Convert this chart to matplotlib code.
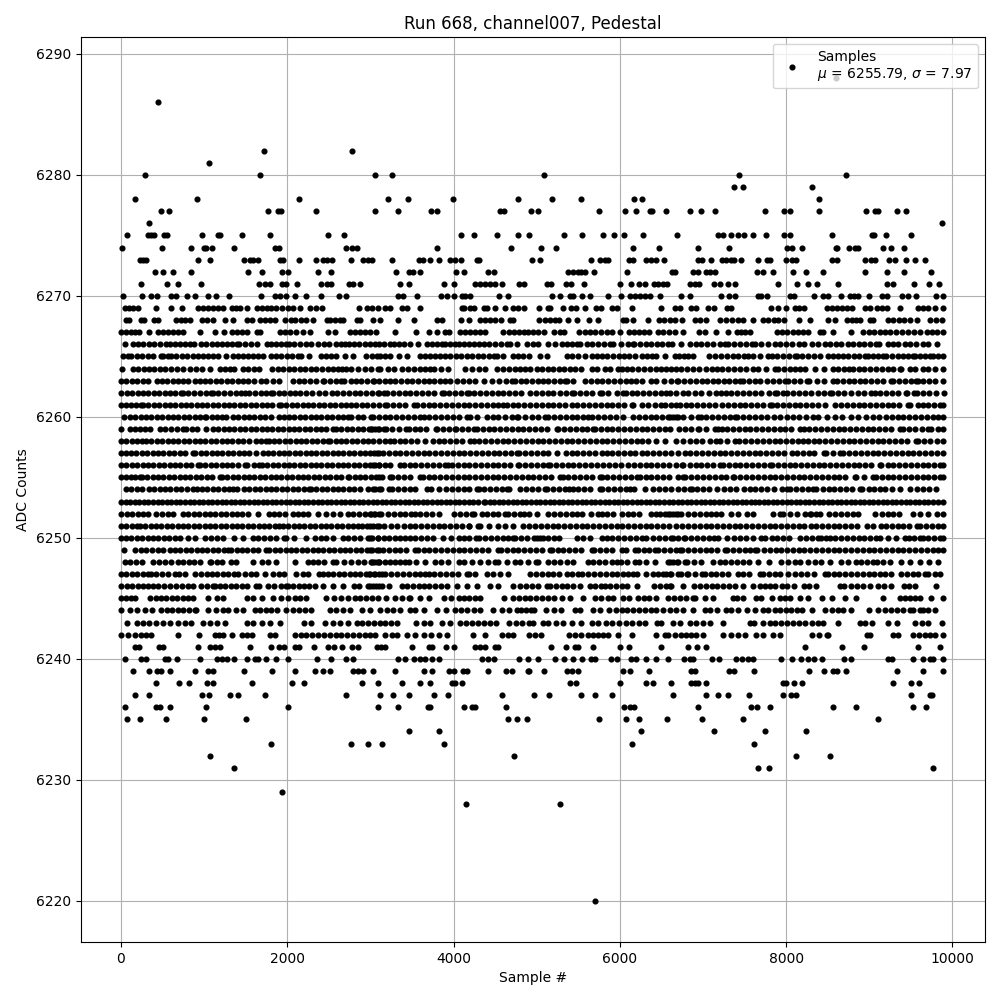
import matplotlib
matplotlib.use("Agg")
import matplotlib.pyplot as plt

# Sample numbers, one list per ADC level
s6288 = [8594]
s6286 = [446]
s6282 = [1723, 2783]
s6281 = [1060]
s6280 = [289, 1675, 3060, 3265, 5084, 7434, 8723]
s6279 = [7369, 7482, 8313]
s6278 = [169, 916, 2145, 3217, 3446, 3988, 4771, 5181, 5530, 6169, 6265, 8398]
s6277 = [482, 578, 1771, 1892, 1928, 2349, 3060, 3337, 3731, 3795, 4562, 4610, 4932, 5012, 5747, 6064, 6193, 6357, 6385, 6554, 6843, 6976, 7145, 7747, 7972, 8044, 8398, 8964, 9068, 9108, 9329, 9438]
s6276 = [337, 9879]
s6275 = [72, 325, 361, 393, 514, 554, 976, 1169, 1189, 1458, 1795, 2494, 2687, 4084, 4241, 4518, 4771, 4912, 5325, 5542, 5795, 5928, 6048, 6277, 6687, 7181, 7241, 7337, 7422, 7490, 7602, 7759, 7972, 8044, 8554, 9028, 9060, 9205, 9506]
s6274 = [12, 498, 843, 996, 1028, 1096, 1361, 1851, 1900, 2711, 2783, 2843, 3795, 4687, 5048, 5229, 6157, 6470, 6940, 7313, 8012, 8064, 8193, 8594, 8614, 8759, 8827, 8863, 9169, 9265, 9422]
s6273 = [229, 265, 301, 928, 1072, 1482, 1554, 1590, 1651, 1912, 1952, 2145, 2341, 2434, 2474, 2542, 2771, 2908, 2976, 3016, 3265, 3578, 3638, 3711, 3819, 3952, 4020, 4084, 4281, 4309, 4944, 5040, 5651, 5755, 5815, 5859, 6108, 6157, 6317, 6378, 6438, 6530, 6940, 6992, 7100, 7229, 7281, 7341, 7378, 7458, 7663, 7771, 7811, 8000, 8068, 8116, 8554, 8614, 8948, 9016, 9072, 9241, 9313, 9446, 9554, 9675]
s6272 = [410, 506, 627, 843, 1530, 1691, 1940, 2012, 2365, 2530, 3313, 3458, 3506, 3602, 4024, 4120, 4410, 4482, 5373, 5434, 5494, 5534, 5586, 5687, 6084, 6626, 6663, 6880, 6940, 7040, 7088, 7141, 7651, 7723, 7843, 8084, 8241, 8446, 8952, 9217, 9422, 9747]
s6271 = [241, 554, 687, 964, 1663, 1735, 1791, 1940, 1984, 2120, 2410, 2478, 2522, 2747, 2795, 2879, 3361, 3458, 3879, 4000, 4253, 4321, 4381, 4434, 4502, 4582, 4791, 4843, 5120, 5177, 5353, 5414, 5566, 6000, 6133, 6229, 6297, 6410, 6458, 6518, 6570, 6839, 6900, 6952, 7128, 7201, 7301, 7385, 7896, 8133, 8265, 8366, 8627, 9217, 9289, 9542, 9723, 9843]
s6270 = [24, 253, 361, 434, 606, 667, 795, 892, 1048, 1145, 1301, 1687, 1851, 1912, 1988, 2096, 2225, 2402, 2626, 2703, 3337, 3390, 3554, 3843, 3920, 4000, 4100, 4141, 4193, 4550, 4655, 5181, 5281, 5394, 5434, 5542, 5639, 5855, 6016, 6116, 6177, 6245, 6297, 6357, 6482, 6739, 6839, 7221, 7313, 7381, 7663, 7703, 7771, 8044, 8092, 8337, 8446, 8506, 8663, 8767, 8815, 8867, 8992, 9149, 9209, 9390, 9470, 9566, 9807, 9883]
s6269 = [45, 100, 150, 205, 420, 605, 735, 930, 990, 1050, 1110, 1170, 1230, 1330, 1385, 1430, 1510, 1630, 1690, 1750, 1810, 1870, 1940, 2010, 2065, 2155, 2275, 2340, 2415, 2865, 2955, 3020, 3095, 3175, 3235, 3375, 3435, 3600, 4100, 4120, 4200, 4240, 4360, 4400, 4500, 4615, 4715, 4780, 4845, 5024, 5133, 5161, 5313, 5414, 5474, 5578, 5715, 5775, 5904, 5964, 6145, 6494, 6667, 6727, 6859, 6920, 7060, 7133, 7293, 7333, 7823, 7900, 8000, 8104, 8157, 8217, 8486, 8546, 8606, 8667, 8727, 8795, 8948, 9008, 9088, 9149, 9209, 9373, 9590, 9651, 9711, 9791, 9883]
s6268 = [65, 95, 245, 275, 395, 445, 665, 725, 775, 825, 980, 1030, 1110, 1250, 1350, 1520, 1580, 1675, 1735, 1795, 1850, 1970, 2040, 2090, 2160, 2230, 2315, 2475, 2515, 2575, 2635, 2675, 2835, 2875, 3030, 3110, 3330, 3520, 3800, 3860, 4090, 4180, 4320, 4380, 4440, 4500, 4570, 4680, 4720, 5032, 5095, 5155, 5215, 5273, 5373, 5482, 5627, 5735, 6036, 6076, 6157, 6337, 6470, 6530, 6600, 6658, 6751, 6900, 6965, 7040, 7205, 7281, 7345, 7415, 7482, 7606, 7723, 7785, 7850, 7904, 7976, 8157, 8289, 8506, 8586, 8727, 8790, 8840, 8887, 9008, 9048, 9229, 9290, 9355, 9420, 9495, 9570, 9731, 9800, 9871]
s6267 = [5, 65, 125, 170, 215, 335, 440, 505, 565, 625, 690, 745, 955, 1130, 1240, 1330, 1390, 1450, 1510, 1630, 1670, 1910, 1970, 2030, 2110, 2185, 2275, 2495, 2575, 2760, 2820, 2880, 2940, 2995, 3070, 3290, 3545, 3700, 3805, 3900, 3950, 4080, 4140, 4200, 4260, 4320, 4380, 4600, 4665, 4730, 4790, 4850, 4900, 4950, 5020, 5092, 5212, 5275, 5333, 5514, 5575, 5635, 5695, 5775, 5840, 5905, 5996, 6104, 6170, 6230, 6290, 6349, 6458, 6520, 6590, 6658, 6759, 6952, 7020, 7153, 7301, 7410, 7460, 7510, 7562, 7884, 7950, 8015, 8080, 8140, 8200, 8265, 8406, 8446, 8566, 8775, 8928, 8990, 9060, 9129, 9189, 9250, 9320, 9390, 9460, 9535, 9610, 9691, 9750, 9815, 9880]
s6266 = [52, 145, 205, 265, 337, 400, 470, 540, 590, 650, 710, 770, 830, 880, 960, 1020, 1090, 1150, 1210, 1270, 1330, 1390, 1420, 1490, 1560, 1640, 1750, 1810, 1870, 1920, 1990, 2020, 2080, 2150, 2220, 2290, 2370, 2440, 2500, 2580, 2650, 2700, 2740, 2800, 2860, 2930, 3000, 3060, 3100, 3160, 3230, 3285, 3340, 3400, 3480, 3570, 3680, 3740, 3800, 3860, 3900, 3960, 4020, 4060, 4120, 4180, 4240, 4300, 4360, 4430, 4500, 4570, 4640, 4680, 4760, 4880, 4960, 5020, 5130, 5225, 5300, 5360, 5430, 5480, 5525, 5600, 5670, 5740, 5810, 5880, 5915, 6015, 6095, 6155, 6175, 6240, 6310, 6380, 6445, 6510, 6575, 6630, 6733, 6840, 6910, 6980, 7050, 7120, 7200, 7270, 7300, 7370, 7440, 7520, 7590, 7620, 7703, 7785, 7860, 7930, 8000, 8070, 8150, 8220, 8305, 8385, 8465, 8530, 8600, 8660, 8745, 8805, 8870, 8940, 9010, 9080, 9118, 9225, 9290, 9350, 9425, 9485, 9560, 9640, 9707, 9815]
s6265 = [30, 90, 125, 190, 255, 320, 390, 485, 505, 560, 605, 665, 730, 795, 860, 925, 990, 1050, 1110, 1165, 1265, 1345, 1405, 1465, 1530, 1590, 1645, 1705, 1805, 1870, 1930, 2000, 2060, 2125, 2165, 2265, 2410, 2470, 2530, 2590, 2690, 2790, 2950, 3015, 3080, 3110, 3175, 3240, 3340, 3440, 3600, 3660, 3720, 3780, 3840, 3900, 3960, 4025, 4090, 4160, 4225, 4290, 4355, 4420, 4480, 4520, 4600, 4710, 4775, 4840, 4910, 5040, 5120, 5360, 5420, 5500, 5580, 5660, 5720, 5785, 5850, 5920, 5985, 6050, 6115, 6180, 6260, 6330, 6390, 6440, 6540, 6660, 6716, 6772, 6816, 6884, 7076, 7140, 7210, 7290, 7364, 7424, 7490, 7544, 7604, 7684, 7784, 7824, 7890, 7960, 8030, 8104, 8124, 8190, 8260, 8330, 8404, 8504, 8560, 8620, 8680, 8744, 8812, 8880, 8944, 8984, 9050, 9110, 9164, 9204, 9270, 9340, 9410, 9470, 9524, 9544, 9610, 9670, 9724, 9764, 9830, 9884]
s6264 = [12, 145, 210, 275, 340, 400, 465, 525, 605, 675, 745, 830, 905, 975, 1075, 1185, 1250, 1310, 1365, 1465, 1530, 1600, 1665, 1815, 1885, 1950, 2015, 2080, 2150, 2215, 2280, 2350, 2420, 2485, 2545, 2605, 2660, 2710, 2765, 2845, 2935, 3005, 3085, 3120, 3210, 3280, 3380, 3450, 3520, 3590, 3660, 3720, 3760, 3850, 3930, 4140, 4220, 4300, 4380, 4520, 4600, 4670, 4735, 4800, 4860, 4920, 5000, 5065, 5130, 5200, 5265, 5330, 5400, 5460, 5530, 5660, 5720, 5820, 5880, 5980, 6020, 6085, 6150, 6220, 6290, 6360, 6430, 6500, 6560, 6620, 6680, 6740, 6804, 6876, 6950, 7030, 7104, 7172, 7224, 7300, 7370, 7440, 7520, 7596, 7664, 7760, 7864, 7904, 7970, 8040, 8110, 8170, 8224, 8344, 8456, 8564, 8624, 8690, 8752, 8804, 8870, 8940, 9010, 9080, 9150, 9220, 9290, 9364, 9384, 9484, 9544, 9644, 9704, 9790, 9884]
s6263 = [0, 65, 130, 195, 260, 325, 430, 490, 555, 620, 680, 745, 805, 885, 945, 1010, 1075, 1140, 1205, 1270, 1340, 1405, 1465, 1525, 1600, 1685, 1745, 1830, 1905, 2070, 2135, 2200, 2270, 2340, 2425, 2445, 2510, 2580, 2645, 2685, 2765, 2825, 2890, 2960, 3025, 3045, 3105, 3170, 3235, 3300, 3370, 3435, 3500, 3570, 3640, 3705, 3770, 3835, 3900, 3960, 4035, 4110, 4190, 4260, 4360, 4460, 4550, 4625, 4700, 4740, 4805, 4870, 4940, 5010, 5075, 5140, 5210, 5275, 5340, 5360, 5440, 5580, 5650, 5720, 5790, 5860, 5930, 6000, 6070, 6130, 6195, 6260, 6380, 6440, 6530, 6620, 6700, 6690, 6770, 6845, 6915, 6985, 7050, 7120, 7185, 7250, 7315, 7380, 7445, 7485, 7550, 7620, 7690, 7765, 7845, 7915, 7985, 8025, 8095, 8170, 8245, 8275, 8365, 8455, 8565, 8615, 8680, 8750, 8815, 8885, 8950, 9020, 9090, 9160, 9265, 9290, 9360, 9430, 9500, 9565, 9585, 9650, 9720, 9790, 9885]
s6262 = [5, 70, 135, 200, 265, 330, 395, 460, 525, 590, 655, 725, 745, 810, 875, 945, 1020, 1085, 1105, 1170, 1240, 1310, 1380, 1440, 1495, 1545, 1610, 1680, 1745, 1805, 1825, 1895, 1965, 2030, 2095, 2155, 2230, 2300, 2380, 2455, 2535, 2600, 2670, 2740, 2810, 2880, 2950, 3020, 3085, 3100, 3160, 3200, 3270, 3340, 3410, 3480, 3550, 3620, 3690, 3760, 3860, 3880, 3950, 4020, 4090, 4160, 4180, 4250, 4320, 4390, 4460, 4530, 4600, 4670, 4740, 4810, 4920, 4990, 5060, 5130, 5200, 5280, 5350, 5420, 5450, 5520, 5590, 5660, 5760, 5790, 5860, 5970, 6040, 6070, 6140, 6210, 6280, 6350, 6420, 6490, 6560, 6680, 6604, 6756, 6820, 6900, 6972, 7076, 7150, 7210, 7276, 7336, 7410, 7480, 7550, 7630, 7700, 7790, 7864, 7892, 7964, 8004, 8080, 8150, 8230, 8300, 8380, 8450, 8524, 8552, 8625, 8700, 8780, 8860, 8940, 9024, 9064, 9130, 9200, 9270, 9340, 9436, 9452, 9532, 9572, 9650, 9720, 9800, 9892]
s6261 = [0, 60, 125, 185, 245, 265, 330, 395, 460, 525, 590, 655, 720, 785, 845, 910, 975, 1040, 1105, 1170, 1235, 1300, 1365, 1430, 1495, 1560, 1625, 1690, 1755, 1820, 1905, 1925, 1990, 2055, 2120, 2185, 2250, 2315, 2380, 2445, 2510, 2575, 2640, 2705, 2765, 2830, 2895, 2960, 3025, 3105, 3170, 3200, 3270, 3340, 3410, 3520, 3560, 3630, 3700, 3770, 3840, 3910, 3980, 4050, 4120, 4190, 4260, 4330, 4400, 4470, 4540, 4600, 4640, 4710, 4780, 4850, 4920, 4990, 5060, 5130, 5200, 5270, 5340, 5420, 5490, 5560, 5630, 5700, 5770, 5840, 5910, 5980, 6050, 6140, 6160, 6260, 6340, 6420, 6500, 6540, 6610, 6680, 6720, 6790, 6860, 6930, 7000, 7070, 7140, 7224, 7304, 7370, 7440, 7510, 7580, 7650, 7720, 7804, 7824, 7890, 7960, 8030, 8100, 8170, 8240, 8310, 8380, 8464, 8592, 8660, 8730, 8800, 8870, 8940, 9010, 9080, 9150, 9220, 9290, 9360, 9464, 9484, 9584, 9644, 9710, 9780, 9845, 9890]
s6260 = [32, 105, 170, 235, 300, 365, 430, 495, 560, 625, 690, 755, 820, 885, 950, 1005, 1025, 1090, 1155, 1220, 1265, 1345, 1410, 1475, 1540, 1605, 1670, 1735, 1800, 1905, 1955, 2020, 2085, 2150, 2215, 2280, 2345, 2410, 2475, 2540, 2605, 2670, 2725, 2765, 2845, 2915, 3005, 3030, 3105, 3170, 3240, 3310, 3380, 3450, 3520, 3600, 3640, 3710, 3780, 3850, 3920, 3990, 4060, 4160, 4200, 4280, 4400, 4470, 4540, 4620, 4700, 4760, 4780, 4860, 4940, 5020, 5100, 5140, 5210, 5280, 5350, 5420, 5490, 5560, 5620, 5670, 5740, 5810, 5880, 5950, 6040, 6160, 6230, 6300, 6370, 6440, 6510, 6580, 6640, 6700, 6604, 6680, 6760, 6850, 6944, 6972, 7040, 7110, 7180, 7250, 7320, 7384, 7404, 7480, 7550, 7620, 7700, 7770, 7850, 7920, 8004, 8080, 8160, 8240, 8324, 8384, 8496, 8592, 8670, 8784, 8864, 8964, 9040, 9120, 9204, 9270, 9340, 9410, 9480, 9550, 9620, 9690, 9760, 9830, 9884]
s6259 = [0, 105, 170, 230, 290, 345, 465, 530, 600, 670, 745, 785, 850, 920, 1025, 1105, 1170, 1235, 1300, 1365, 1430, 1495, 1560, 1625, 1690, 1755, 1820, 1885, 1950, 2015, 2080, 2145, 2210, 2275, 2340, 2405, 2470, 2545, 2585, 2650, 2715, 2780, 2845, 2910, 2985, 3005, 3060, 3105, 3020, 3090, 3160, 3190, 3260, 3340, 3430, 3460, 3530, 3600, 3670, 3790, 3800, 3870, 3950, 4020, 4030, 4100, 4170, 4250, 4280, 4350, 4420, 4490, 4560, 4630, 4700, 4770, 4840, 4910, 4980, 5050, 5120, 5240, 5260, 5330, 5400, 5470, 5540, 5610, 5680, 5700, 5770, 5840, 5910, 5980, 6050, 6120, 6190, 6260, 6330, 6400, 6470, 6540, 6600, 6716, 6780, 6860, 6944, 6956, 7040, 7144, 7184, 7224, 7290, 7360, 7430, 7500, 7570, 7640, 7710, 7780, 7850, 7920, 7990, 8060, 8164, 8212, 8280, 8350, 8420, 8490, 8560, 8630, 8700, 8770, 8840, 8910, 8980, 9050, 9120, 9190, 9260, 9364, 9404, 9480, 9550, 9630, 9704, 9744, 9820, 9890]
s6258 = [5, 65, 130, 190, 250, 305, 365, 430, 495, 560, 625, 690, 755, 820, 885, 950, 1015, 1080, 1145, 1210, 1275, 1340, 1405, 1470, 1545, 1625, 1685, 1745, 1775, 1840, 1905, 1970, 2035, 2100, 2165, 2230, 2295, 2360, 2425, 2485, 2515, 2580, 2645, 2710, 2775, 2840, 2905, 2970, 3035, 3105, 3170, 3240, 3280, 3350, 3420, 3490, 3560, 3660, 3750, 3820, 3890, 3960, 4030, 4100, 4200, 4240, 4310, 4380, 4450, 4520, 4590, 4660, 4730, 4800, 4870, 4940, 5010, 5080, 5150, 5220, 5290, 5360, 5430, 5500, 5570, 5640, 5710, 5780, 5850, 5920, 5990, 6060, 6130, 6200, 6270, 6340, 6440, 6540, 6680, 6764, 6840, 6910, 6990, 7080, 7156, 7204, 7290, 7384, 7436, 7510, 7580, 7650, 7720, 7790, 7860, 7930, 8000, 8070, 8140, 8204, 8260, 8330, 8400, 8470, 8540, 8610, 8680, 8750, 8820, 8890, 8960, 9030, 9100, 9170, 9240, 9310, 9380, 9450, 9556, 9584, 9660, 9730, 9810, 9890]
s6257 = [0, 60, 120, 185, 250, 315, 380, 445, 510, 575, 640, 705, 770, 865, 895, 960, 1025, 1090, 1155, 1220, 1285, 1350, 1415, 1480, 1545, 1625, 1705, 1765, 1830, 1895, 1960, 2025, 2090, 2155, 2220, 2285, 2350, 2415, 2480, 2545, 2610, 2675, 2740, 2805, 2870, 2935, 3000, 3105, 3040, 3080, 3150, 3220, 3290, 3360, 3430, 3500, 3570, 3640, 3710, 3780, 3850, 3920, 3990, 4060, 4130, 4200, 4270, 4340, 4410, 4480, 4550, 4620, 4690, 4760, 4790, 4860, 4930, 5000, 5070, 5140, 5240, 5350, 5420, 5490, 5560, 5630, 5700, 5780, 5840, 5910, 5980, 6050, 6120, 6180, 6260, 6330, 6400, 6470, 6540, 6610, 6700, 6784, 6844, 6920, 6990, 7060, 7130, 7200, 7270, 7340, 7410, 7480, 7550, 7620, 7690, 7760, 7830, 7900, 7970, 8064, 8124, 8200, 8270, 8340, 8452, 8484, 8560, 8652, 8684, 8760, 8830, 8900, 8970, 9040, 9110, 9180, 9250, 9320, 9390, 9460, 9530, 9600, 9670, 9740, 9810, 9890]
s6256 = [0, 65, 130, 195, 260, 325, 390, 455, 520, 585, 650, 715, 780, 845, 925, 950, 1015, 1080, 1145, 1210, 1275, 1340, 1405, 1495, 1515, 1600, 1665, 1695, 1760, 1825, 1890, 1955, 2020, 2085, 2150, 2215, 2280, 2345, 2410, 2475, 2540, 2605, 2670, 2735, 2800, 2865, 2930, 2995, 3060, 3105, 3030, 3100, 3170, 3240, 3360, 3400, 3470, 3540, 3610, 3680, 3750, 3820, 3900, 3930, 3980, 4050, 4120, 4190, 4260, 4330, 4400, 4470, 4540, 4610, 4680, 4780, 4790, 4860, 4930, 5000, 5070, 5130, 5160, 5230, 5300, 5370, 5440, 5510, 5580, 5650, 5720, 5800, 5870, 5940, 6010, 6100, 6170, 6240, 6310, 6380, 6450, 6520, 6590, 6680, 6744, 6764, 6840, 6910, 6980, 7050, 7120, 7204, 7236, 7310, 7380, 7450, 7520, 7590, 7660, 7730, 7804, 7832, 7900, 7970, 8040, 8110, 8180, 8250, 8320, 8390, 8460, 8530, 8600, 8670, 8740, 8810, 8880, 8950, 9020, 9124, 9144, 9220, 9290, 9360, 9430, 9500, 9570, 9640, 9710, 9780, 9850, 9890]
s6255 = [0, 60, 115, 170, 225, 250, 315, 380, 445, 510, 575, 640, 705, 770, 835, 900, 965, 1030, 1095, 1185, 1215, 1280, 1345, 1410, 1475, 1540, 1605, 1670, 1735, 1800, 1865, 1930, 1995, 2060, 2125, 2190, 2255, 2320, 2385, 2450, 2515, 2580, 2645, 2725, 2745, 2810, 2875, 2940, 3005, 3105, 3070, 3140, 3240, 3260, 3330, 3400, 3470, 3600, 3630, 3700, 3770, 3840, 3910, 3980, 4050, 4120, 4190, 4260, 4330, 4400, 4470, 4540, 4610, 4680, 4750, 4820, 4890, 4960, 5030, 5100, 5170, 5280, 5310, 5380, 5450, 5520, 5590, 5660, 5760, 5780, 5850, 5920, 5990, 6060, 6130, 6200, 6240, 6310, 6380, 6450, 6520, 6590, 6700, 6756, 6784, 6860, 6930, 7000, 7070, 7140, 7210, 7280, 7356, 7372, 7450, 7520, 7590, 7660, 7730, 7800, 7870, 7940, 8010, 8080, 8150, 8220, 8290, 8360, 8430, 8500, 8570, 8640, 8710, 8824, 8844, 8930, 9044, 9076, 9150, 9220, 9290, 9360, 9430, 9500, 9570, 9640, 9710, 9780, 9850, 9890]
s6254 = [55, 120, 190, 250, 335, 400, 465, 530, 595, 660, 725, 790, 865, 910, 975, 1040, 1105, 1170, 1235, 1300, 1350, 1390, 1480, 1545, 1610, 1675, 1740, 1805, 1870, 1935, 2000, 2065, 2130, 2195, 2265, 2285, 2350, 2415, 2480, 2545, 2610, 2675, 2740, 2805, 2870, 2975, 3025, 3105, 3050, 3130, 3220, 3260, 3330, 3400, 3470, 3540, 3680, 3730, 3830, 3910, 3980, 4050, 4120, 4190, 4280, 4300, 4370, 4440, 4510, 4580, 4640, 4670, 4800, 4870, 4940, 5010, 5100, 5120, 5200, 5270, 5340, 5390, 5440, 5500, 5570, 5640, 5760, 5790, 5860, 5930, 6000, 6070, 6120, 6170, 6300, 6400, 6470, 6540, 6610, 6700, 6770, 6844, 6864, 6930, 7000, 7070, 7164, 7250, 7320, 7400, 7490, 7564, 7624, 7700, 7770, 7850, 7944, 8004, 8044, 8120, 8190, 8260, 8324, 8364, 8440, 8510, 8580, 8650, 8720, 8790, 8884, 8916, 8990, 9060, 9130, 9184, 9276, 9372, 9492, 9572, 9644, 9720, 9796]
s6253 = [0, 55, 110, 165, 220, 275, 330, 385, 440, 495, 550, 605, 660, 715, 770, 825, 880, 935, 990, 1045, 1100, 1155, 1210, 1265, 1320, 1375, 1430, 1485, 1540, 1595, 1650, 1705, 1760, 1815, 1870, 1925, 1980, 2035, 2090, 2145, 2200, 2255, 2310, 2365, 2420, 2475, 2530, 2585, 2640, 2695, 2750, 2805, 2860, 2915, 2970, 3025, 3080, 3135, 3190, 3245, 3300, 3355, 3410, 3465, 3520, 3575, 3630, 3685, 3740, 3795, 3850, 3905, 3960, 4015, 4070, 4125, 4180, 4235, 4290, 4360, 4380, 4435, 4490, 4545, 4600, 4655, 4710, 4765, 4820, 4875, 4930, 4990, 5040, 5100, 5155, 5210, 5265, 5320, 5375, 5430, 5485, 5540, 5595, 5650, 5705, 5760, 5815, 5870, 5925, 5980, 6035, 6090, 6145, 6200, 6255, 6310, 6365, 6420, 6475, 6530, 6585, 6640, 6695, 6750, 6805, 6860, 6915, 6970, 7025, 7080, 7135, 7190, 7245, 7300, 7355, 7410, 7465, 7520, 7575, 7630, 7676, 7730, 7785, 7840, 7895, 7950, 8005, 8060, 8115, 8170, 8225, 8280, 8335, 8390, 8445, 8500, 8555, 8610, 8665, 8720, 8775, 8830, 8885, 8940, 8995, 9050, 9105, 9160, 9215, 9270, 9325, 9380, 9435, 9490, 9545, 9600, 9655, 9710, 9765, 9820, 9890]
s6252 = [5, 70, 135, 200, 265, 330, 425, 495, 560, 625, 745, 810, 875, 940, 1005, 1070, 1135, 1200, 1265, 1330, 1395, 1460, 1525, 1645, 1775, 1840, 1905, 1970, 2065, 2125, 2190, 2255, 2365, 2465, 2550, 2635, 2725, 2790, 2860, 2930, 3005, 3045, 3105, 3000, 3060, 3130, 3210, 3280, 3360, 3420, 3490, 3540, 3600, 3670, 3745, 3820, 4010, 4080, 4150, 4220, 4250, 4340, 4400, 4470, 4540, 4620, 4660, 4730, 4800, 4850, 4910, 5000, 5140, 5210, 5280, 5350, 5420, 5490, 5550, 5650, 5740, 5780, 5850, 5920, 6030, 6100, 6160, 6230, 6380, 6440, 6480, 6540, 6580, 6640, 6700, 6604, 6670, 6740, 6820, 6890, 6960, 7030, 7100, 7156, 7212, 7336, 7424, 7524, 7604, 7836, 7924, 7964, 8050, 8136, 8224, 8284, 8304, 8364, 8412, 8516, 8592, 8660, 8730, 8800, 8864, 9064, 9152, 9220, 9284, 9356, 9524, 9610, 9704, 9812, 9890]
s6251 = [0, 65, 130, 190, 225, 290, 355, 420, 485, 550, 615, 680, 745, 810, 875, 940, 1005, 1070, 1135, 1200, 1265, 1330, 1395, 1460, 1525, 1590, 1655, 1720, 1785, 1850, 1905, 1945, 2010, 2075, 2140, 2205, 2270, 2335, 2400, 2465, 2530, 2595, 2660, 2725, 2790, 2845, 2895, 2960, 3025, 3105, 3000, 3080, 3160, 3250, 3320, 3400, 3470, 3540, 3610, 3680, 3750, 3820, 3890, 3960, 4030, 4100, 4180, 4190, 4290, 4320, 4420, 4540, 4620, 4720, 4830, 4910, 4980, 5050, 5120, 5190, 5260, 5330, 5400, 5470, 5540, 5610, 5680, 5750, 5820, 5890, 5960, 6030, 6100, 6170, 6240, 6310, 6380, 6450, 6520, 6590, 6680, 6750, 6820, 6890, 6960, 7030, 7100, 7170, 7240, 7310, 7380, 7450, 7520, 7590, 7660, 7730, 7800, 7870, 7940, 8010, 8080, 8150, 8220, 8304, 8356, 8430, 8500, 8570, 8640, 8710, 8780, 8850, 8972, 9044, 9144, 9196, 9270, 9340, 9410, 9480, 9572, 9612, 9680, 9750, 9820, 9890]
s6250 = [0, 60, 125, 190, 255, 320, 385, 450, 515, 580, 645, 710, 805, 885, 1015, 1085, 1155, 1225, 1365, 1465, 1585, 1650, 1720, 1790, 1860, 1965, 1985, 2085, 2225, 2335, 2400, 2470, 2545, 2665, 2730, 2800, 2870, 2965, 2995, 3085, 3020, 3090, 3160, 3220, 3290, 3360, 3420, 3470, 3540, 3610, 3680, 3750, 3870, 3970, 4070, 4120, 4190, 4270, 4310, 4380, 4450, 4520, 4590, 4660, 4720, 4740, 4810, 4880, 4970, 5000, 5040, 5070, 5140, 5210, 5270, 5490, 5560, 5640, 5780, 5850, 5910, 5980, 6050, 6120, 6190, 6260, 6320, 6400, 6470, 6540, 6620, 6700, 6636, 6772, 6784, 6860, 6930, 7000, 7070, 7132, 7184, 7284, 7372, 7450, 7520, 7600, 7692, 7744, 7824, 7884, 7960, 8032, 8172, 8244, 8310, 8384, 8424, 8484, 8524, 8590, 8660, 8730, 8800, 8870, 8940, 9010, 9080, 9124, 9224, 9324, 9424, 9476, 9540, 9604, 9644, 9710, 9780, 9850, 9890]
s6249 = [40, 165, 235, 305, 375, 445, 505, 585, 650, 715, 780, 845, 910, 975, 1040, 1105, 1170, 1235, 1285, 1325, 1390, 1455, 1520, 1585, 1650, 1745, 1785, 1850, 1915, 1980, 2045, 2110, 2175, 2240, 2305, 2370, 2435, 2500, 2565, 2630, 2695, 2760, 2825, 2890, 2955, 3020, 3105, 3000, 3075, 3150, 3220, 3290, 3360, 3430, 3540, 3570, 3640, 3710, 3780, 3850, 3920, 3990, 4060, 4130, 4200, 4270, 4340, 4410, 4540, 4570, 4640, 4710, 4780, 4850, 4920, 4990, 5060, 5160, 5180, 5250, 5320, 5390, 5460, 5530, 5660, 5690, 5760, 5830, 5900, 6020, 6070, 6180, 6220, 6290, 6350, 6420, 6460, 6530, 6600, 6720, 6680, 6750, 6820, 6890, 6960, 7030, 7100, 7170, 7264, 7284, 7360, 7430, 7500, 7570, 7624, 7652, 7730, 7800, 7876, 7936, 8010, 8080, 8150, 8220, 8290, 8360, 8430, 8500, 8570, 8640, 8710, 8780, 8850, 8920, 8990, 9060, 9130, 9200, 9270, 9340, 9410, 9480, 9550, 9620, 9690, 9760, 9830, 9890]
s6248 = [45, 110, 180, 255, 390, 460, 535, 605, 685, 750, 815, 880, 950, 1065, 1085, 1150, 1215, 1325, 1385, 1585, 1695, 1765, 1865, 2095, 2245, 2305, 2375, 2445, 2545, 2585, 2680, 2765, 2845, 2925, 3005, 3045, 3105, 3020, 3080, 3100, 3170, 3240, 3290, 3360, 3420, 3460, 3550, 3660, 3780, 3850, 3930, 4060, 4130, 4220, 4320, 4410, 4500, 4540, 4640, 4740, 4800, 4890, 4990, 5020, 5140, 5210, 5280, 5360, 5440, 5620, 5680, 5750, 5820, 5900, 5960, 6010, 6090, 6180, 6230, 6320, 6420, 6580, 6640, 6700, 6604, 6690, 6784, 6804, 6890, 6972, 7124, 7200, 7270, 7340, 7410, 7480, 7550, 7664, 7796, 7932, 8024, 8100, 8170, 8260, 8344, 8424, 8530, 8664, 8744, 8844, 8904, 8970, 9044, 9092, 9170, 9244, 9384, 9492, 9604, 9716, 9824]
s6247 = [0, 65, 130, 195, 260, 325, 355, 420, 490, 565, 645, 695, 770, 885, 965, 1030, 1095, 1160, 1225, 1290, 1355, 1405, 1495, 1560, 1625, 1735, 1825, 1895, 1965, 2105, 2185, 2250, 2385, 2425, 2490, 2555, 2620, 2685, 2750, 2815, 2880, 2945, 2985, 3045, 3105, 3000, 3060, 3140, 3180, 3250, 3320, 3390, 3460, 3530, 3600, 3660, 3700, 3770, 3840, 3910, 3980, 4050, 4160, 4180, 4260, 4400, 4470, 4560, 4660, 4920, 4990, 5060, 5130, 5200, 5270, 5360, 5430, 5500, 5550, 5620, 5690, 5760, 5830, 5900, 5970, 6040, 6100, 6160, 6210, 6320, 6400, 6460, 6520, 6560, 6620, 6700, 6604, 6730, 6804, 6824, 6900, 6984, 7024, 7090, 7160, 7230, 7300, 7424, 7476, 7550, 7684, 7716, 7790, 7860, 7924, 8024, 8100, 8184, 8252, 8330, 8464, 8504, 8572, 8640, 8710, 8780, 8850, 8920, 8990, 9052, 9124, 9190, 9264, 9384, 9450, 9520, 9590, 9664, 9704, 9784, 9852]
s6246 = [5, 70, 135, 200, 260, 325, 385, 445, 515, 585, 665, 735, 800, 865, 965, 1035, 1105, 1125, 1190, 1255, 1320, 1385, 1450, 1515, 1625, 1655, 1765, 1845, 1925, 1985, 2005, 2070, 2135, 2200, 2265, 2330, 2425, 2545, 2665, 2805, 2865, 2965, 3035, 3105, 3000, 3070, 3140, 3220, 3380, 3440, 3510, 3580, 3640, 3700, 3780, 3850, 3920, 4040, 4160, 4280, 4440, 4540, 4710, 4800, 4870, 4940, 5010, 5120, 5160, 5230, 5300, 5360, 5440, 5520, 5640, 5700, 5770, 5820, 5880, 5950, 6020, 6090, 6200, 6410, 6480, 6550, 6620, 6604, 6764, 6892, 6960, 7030, 7104, 7164, 7240, 7316, 7384, 7476, 7596, 7684, 7744, 7804, 7870, 7944, 8004, 8092, 8216, 8276, 8364, 8644, 8692, 8784, 8850, 8924, 9004, 9104, 9180, 9264, 9416, 9480, 9552, 9796]
s6245 = [5, 60, 115, 165, 350, 415, 480, 545, 610, 675, 740, 805, 865, 1050, 1150, 1230, 1520, 1590, 1690, 1830, 1930, 2010, 2090, 2150, 2230, 2460, 2560, 2650, 2730, 2810, 2880, 2950, 3020, 3095, 3190, 3295, 3375, 3460, 3480, 3600, 3700, 3880, 3970, 4060, 4120, 4180, 4260, 4320, 4610, 4720, 4790, 4860, 4920, 4990, 5060, 5130, 5212, 5300, 5400, 5555, 5705, 5775, 5855, 5915, 6035, 6115, 6215, 6285, 6355, 6440, 6580, 6650, 6720, 6790, 6880, 6900, 7020, 7120, 7360, 7410, 7480, 7640, 7700, 7835, 7925, 7985, 8045, 8165, 8265, 8425, 8555, 8705, 8835, 9170, 9370, 9430, 9490, 9550, 9610, 9740, 9880]
s6244 = [5, 105, 190, 285, 375, 485, 550, 615, 680, 750, 815, 885, 905, 1050, 1140, 1230, 1290, 1380, 1470, 1610, 1675, 1740, 1810, 1880, 1990, 2070, 2140, 2210, 2290, 2510, 2590, 2665, 2755, 2895, 2990, 3115, 3195, 3275, 3355, 3480, 3540, 3640, 3800, 3910, 4020, 4090, 4160, 4240, 4320, 4475, 4580, 4670, 4765, 4805, 4865, 4925, 4972, 5115, 5205, 5295, 5455, 5515, 5675, 5755, 5875, 5950, 6020, 6090, 6160, 6230, 6300, 6370, 6440, 6520, 6600, 6680, 6760, 6880, 7020, 7080, 7170, 7280, 7340, 7420, 7530, 7625, 7725, 7785, 7860, 7930, 8000, 8060, 8125, 8195, 8310, 8465, 8545, 8625, 8680, 8775, 8990, 9110, 9190, 9260, 9330, 9410, 9490, 9530, 9610, 9650, 9710, 9790]
s6243 = [75, 190, 265, 335, 420, 505, 595, 680, 765, 845, 990, 1075, 1150, 1250, 1510, 1590, 1690, 1790, 1910, 2200, 2280, 2455, 2545, 2635, 2735, 2835, 2900, 2970, 3040, 3110, 3180, 3250, 3315, 3545, 3640, 3720, 3860, 3960, 4080, 4150, 4220, 4290, 4360, 4435, 4515, 4665, 4745, 4825, 4905, 4950, 5070, 5130, 5235, 5315, 5425, 5535, 5665, 5735, 5835, 5905, 5990, 6070, 6150, 6230, 6300, 6445, 6500, 6640, 6720, 6840, 6920, 7000, 7080, 7240, 7560, 7610, 7725, 7800, 7870, 7940, 8010, 8080, 8150, 8230, 8305, 8385, 8445, 8625, 8890, 8950, 9035, 9230, 9330, 9550, 9630, 9710, 9870]
s6242 = [5, 85, 165, 235, 300, 355, 685, 940, 1130, 1180, 1230, 1335, 1460, 1520, 1580, 1790, 1850, 2090, 2160, 2230, 2300, 2370, 2440, 2510, 2580, 2650, 2720, 2790, 2860, 2930, 3000, 3055, 3170, 3255, 3315, 3445, 3530, 3640, 3725, 3820, 3920, 4230, 4375, 4580, 4650, 4715, 4905, 4980, 5050, 5385, 5455, 5535, 5615, 5680, 5740, 5800, 5855, 5975, 6145, 6440, 6540, 6580, 6660, 6730, 6800, 6860, 6920, 7000, 7240, 7340, 7420, 7500, 7635, 7725, 7845, 7925, 8305, 8400, 8485, 8505, 8970, 9010, 9290, 9350, 9530, 9600, 9670, 9730, 9790, 9890]
s6241 = [165, 215, 460, 505, 930, 1070, 1130, 1190, 1550, 1810, 1895, 1965, 2090, 2140, 2320, 2495, 2565, 2655, 2775, 2845, 3075, 3125, 3175, 3505, 3710, 3740, 3910, 4010, 4260, 4320, 4380, 4500, 4540, 5170, 5355, 5455, 5495, 5675, 6000, 6110, 6495, 6820, 6930, 7030, 8230, 8675, 8935, 9590, 9845]
s6240 = [50, 235, 300, 525, 565, 675, 955, 1150, 1210, 1270, 1360, 1510, 1610, 1650, 1745, 1865, 2005, 2355, 2520, 2710, 2785, 3335, 3415, 3520, 3600, 3660, 3745, 3830, 4340, 4410, 4480, 4785, 4890, 5012, 5220, 5325, 5435, 5540, 5655, 5695, 5890, 5965, 6135, 6195, 6310, 6435, 6575, 6770, 6840, 6880, 7110, 7190, 7400, 7470, 7540, 7600, 7935, 8070, 8180, 8265, 8330, 8425, 8690, 8785, 9230, 9270, 9520, 9650, 9725, 9770, 9885]
s6239 = [145, 335, 430, 485, 590, 890, 1050, 1110, 1480, 1820, 2095, 2335, 2435, 2510, 2795, 2855, 2915, 3035, 3290, 3650, 3735, 3950, 4010, 4110, 4160, 4410, 4625, 4700, 4890, 4912, 5085, 5360, 5420, 5495, 6035, 6125, 6350, 6860, 6900, 7315, 7375, 7615, 8280, 8460, 8560, 8610, 8725, 9330, 9640, 9890]
s6238 = [420, 700, 820, 1035, 1110, 1580, 2060, 2205, 2900, 3085, 3385, 3600, 3720, 3980, 4020, 4105, 5400, 5470, 6000, 6315, 6400, 6615, 6860, 6900, 6940, 7035, 7965, 7995, 8090, 8195, 9290, 9505, 9600]
s6237 = [170, 335, 975, 1060, 1315, 1410, 1735, 2710, 3120, 3275, 3460, 3770, 3930, 4580, 4965, 5145, 5530, 5700, 5905, 6640, 7035, 7180, 7300, 7555, 7965, 8060, 8120, 9505, 9725, 9750]
s6236 = [50, 420, 465, 590, 1025, 2010, 3095, 3335, 3690, 3720, 4125, 4220, 4260, 4625, 6050, 6125, 6175, 6940, 7580, 7650, 7805, 8565, 8845, 9530, 9685]
s6235 = [70, 230, 540, 1000, 1505, 4650, 4760, 4880, 5745, 6070, 6230, 6565, 6985, 7480, 9105]
s6234 = [3460, 3820, 6255, 7130, 7745, 8240]
s6233 = [1810, 2770, 2975, 3145, 3880, 6145, 7615]
s6232 = [1070, 4725, 8120, 8530]
s6231 = [1360, 7660, 7795, 9770]
s6229 = [1940]
s6228 = [4155, 5280]
s6220 = [5700]

adc_levels = [6288, 6286, 6282, 6281, 6280, 6279, 6278, 6277, 6276, 6275, 6274, 6273, 6272, 6271, 6270,
              6269, 6268, 6267, 6266, 6265, 6264, 6263, 6262, 6261, 6260, 6259, 6258, 6257, 6256, 6255,
              6254, 6253, 6252, 6251, 6250, 6249, 6248, 6247, 6246, 6245, 6244, 6243, 6242, 6241, 6240,
              6239, 6238, 6237, 6236, 6235, 6234, 6233, 6232, 6231, 6229, 6228, 6220]
sample_rows = [s6288, s6286, s6282, s6281, s6280, s6279, s6278, s6277, s6276, s6275, s6274, s6273, s6272, s6271, s6270,
               s6269, s6268, s6267, s6266, s6265, s6264, s6263, s6262, s6261, s6260, s6259, s6258, s6257, s6256, s6255,
               s6254, s6253, s6252, s6251, s6250, s6249, s6248, s6247, s6246, s6245, s6244, s6243, s6242, s6241, s6240,
               s6239, s6238, s6237, s6236, s6235, s6234, s6233, s6232, s6231, s6229, s6228, s6220]

xs, ys = [], []
for level, row in zip(adc_levels, sample_rows):
    xs.extend(row)
    ys.extend([level] * len(row))

fig, ax = plt.subplots(figsize=(10, 10), dpi=100)
ax.plot(xs, ys, "k.", markersize=6.8, label="Samples\n$\\mu$ = 6255.79, $\\sigma$ = 7.97")
ax.set_xlim(-481, 10391)
ax.set_title("Run 668, channel007, Pedestal")
ax.set_xlabel("Sample #")
ax.set_ylabel("ADC Counts")
ax.grid(True)
ax.legend(loc="upper right")
fig.subplots_adjust(left=0.081, right=0.985, top=0.963, bottom=0.058)
fig.savefig("out.png", dpi=100)
